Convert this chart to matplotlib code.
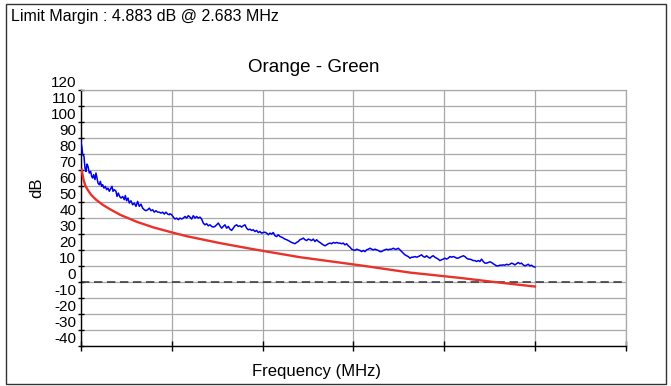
import matplotlib
matplotlib.use("Agg")
import matplotlib.pyplot as plt
from matplotlib.patches import Rectangle

plt.rcParams['font.family'] = ['Liberation Sans', 'DejaVu Sans']

# measured trace (blue)
blue_f = [0.00, 0.22, 0.37, 0.66, 0.88, 1.10, 1.32, 1.54, 1.83, 2.13, 2.35, 2.57, 2.79, 3.08, 3.30,
          3.52, 3.74, 4.04, 4.26, 4.55, 4.77, 5.06, 5.36, 5.65, 5.94, 6.24, 6.53, 6.83, 7.05, 7.34,
          7.71, 7.93, 8.22, 8.51, 8.81, 9.17, 9.54, 9.76, 10.05, 10.35, 10.64, 11.00, 11.38, 11.74,
          12.11, 12.47, 12.84, 13.21, 13.58, 13.94, 14.31, 14.68, 15.04, 15.41, 15.78, 16.14, 16.51,
          16.88, 17.24, 17.61, 17.98, 18.34, 18.71, 19.08, 19.44,
          19.59, 19.96, 20.33, 20.70, 21.06, 21.43, 21.80, 22.16, 22.53, 22.90, 23.26, 23.63, 24.00,
          24.36, 24.73, 25.10, 25.46, 25.83, 26.20, 26.56, 26.93, 27.30, 27.66, 28.03, 28.40, 28.77,
          29.13, 29.50, 29.87, 30.23, 30.60, 30.97, 31.33, 31.70, 32.07, 32.43, 32.80, 33.17, 33.53,
          33.90, 34.27, 34.63, 35.00, 35.37, 35.73, 36.10, 36.47, 36.83, 37.20, 37.57, 37.94, 38.30,
          38.67, 39.04, 39.40, 39.77, 40.14,
          40.51, 40.88, 41.24, 41.61, 41.98, 42.34, 42.71, 43.08, 43.44, 43.81, 44.18, 44.54, 44.91,
          45.28, 45.64, 46.01, 46.38, 46.74, 47.11, 47.48, 47.84, 48.21, 48.58, 48.95, 49.32, 49.68,
          50.05, 50.42, 50.78, 51.15, 51.52, 51.88, 52.25, 52.62, 52.98, 53.35, 53.72, 54.08, 54.45,
          54.82, 55.18, 55.55, 55.92, 56.28, 56.65, 57.02, 57.38, 57.75, 58.12, 58.49, 58.85, 59.22,
          59.59, 59.95, 60.32, 60.69, 61.05,
          61.43, 61.80, 62.16, 62.53, 62.90, 63.26, 63.63, 64.00, 64.36, 64.73, 65.10, 65.46, 65.83,
          66.20, 66.56, 66.93, 67.30, 67.66, 68.03, 68.40, 68.76, 69.13, 69.50, 69.86, 70.23, 70.60,
          70.96, 71.33, 71.70, 72.06, 72.43, 72.80, 73.16, 73.53, 73.90, 74.26, 74.63, 75.00, 75.36,
          75.73, 76.10, 76.46, 76.83, 77.20, 77.56, 77.93, 78.30, 78.66, 79.03, 79.40, 79.76, 80.13,
          80.50, 80.86,
          81.24, 81.60, 81.97, 82.34, 82.70, 83.07, 83.44, 83.80, 84.17, 84.54, 84.90, 85.27, 85.64,
          86.00, 86.37, 86.74, 87.10, 87.47, 87.84, 88.20, 88.57, 88.94, 89.30, 89.67, 90.04, 90.40,
          90.77, 91.14, 91.50, 91.87, 92.24, 92.60, 92.97, 93.34, 93.70, 94.07, 94.44, 94.80, 95.17,
          95.54, 95.90, 96.27, 96.64, 97.00, 97.37, 97.74, 98.10, 98.47, 98.84, 99.20, 99.57, 99.96]
blue_db = [87.3, 83.5, 79.4, 78.3, 71.0, 68.9, 73.5, 72.1, 67.9, 68.9, 65.8, 64.8, 66.9, 63.8, 67.9,
           64.8, 61.7, 60.6, 62.7, 59.6, 60.6, 58.5, 59.6, 57.5, 58.5, 56.5, 58.1, 59.6, 56.5, 57.5,
           56.5, 53.3, 55.4, 53.3, 52.3, 53.3, 51.3, 53.9, 50.6, 52.3, 49.2, 50.6, 48.1, 49.2,
           47.1, 50.2, 47.1, 48.5, 46.0, 45.0, 44.4, 45.0, 46.0, 44.4, 45.0, 43.5, 44.4,
           43.5, 43.5, 42.9, 43.5, 42.3, 43.5, 42.3, 41.9,
           42.5, 41.9, 40.4, 39.2, 39.8, 38.8, 39.8, 39.2, 39.8, 40.8, 39.8, 41.3, 40.4,
           39.2, 41.3, 39.8, 40.8, 39.8, 40.4, 39.2, 36.7, 35.6, 36.3, 35.0, 35.6, 34.6,
           34.2, 34.6, 35.6, 36.7, 35.0, 33.5, 34.6, 35.6, 33.5, 34.6, 32.9, 32.1, 33.5,
           35.0, 35.6, 34.6, 35.0, 34.2, 35.0, 35.6, 33.5, 32.5, 32.9, 32.1, 32.5, 31.4,
           32.1, 30.8, 31.4, 30.4, 30.8,
           31.0, 30.4, 29.4, 30.4, 29.8, 30.8, 28.8, 28.3, 29.4, 28.3, 27.9, 27.3, 26.7,
           26.3, 25.8, 25.2, 24.6, 24.2, 23.8, 24.6, 25.2, 26.3, 26.7, 27.3, 26.3, 25.8,
           26.7, 26.3, 25.8, 26.7, 25.2, 26.3, 25.2, 24.6, 23.8, 23.1, 22.5, 23.1, 23.8,
           24.2, 23.8, 24.6, 24.2, 24.6, 24.2, 24.2, 23.8, 24.2, 23.1, 23.8, 22.5, 21.7,
           20.4, 20.0, 19.6, 20.4, 20.0,
           19.6, 18.9, 19.6, 18.9, 20.0, 20.4, 21.0, 20.4, 20.0, 20.4, 20.0, 19.6, 18.9,
           18.9, 19.6, 20.0, 20.4, 20.0, 20.4, 20.4, 21.0, 20.4, 20.4, 21.0, 20.0, 18.9,
           17.9, 16.9, 16.3, 15.8, 14.8, 15.4, 15.4, 15.8, 15.4, 15.8, 16.3, 16.9, 15.8,
           15.4, 16.3, 15.4, 14.8, 15.8, 16.3, 15.4, 14.8, 14.2, 13.3, 13.8, 14.2, 14.8,
           14.2, 14.8,
           15.8, 15.4, 15.8, 15.4, 14.8, 14.8, 15.4, 15.8, 16.3, 15.8, 14.8, 14.2, 14.2,
           13.8, 13.3, 13.3, 12.7, 13.3, 12.7, 14.2, 12.7, 11.7, 11.7, 12.1, 12.5, 12.1,
           11.3, 10.6, 10.0, 10.0, 10.4, 10.4, 10.6, 10.4, 11.0, 10.6, 11.0, 11.7, 11.3,
           10.6, 11.3, 12.1, 11.3, 11.7, 10.6, 10.0, 10.4, 11.0, 10.0, 10.4, 9.6, 9.2]

# limit line (red)
limit_f = [0.15, 0.51, 0.95, 1.47, 2.20, 3.30, 4.78, 6.23, 8.59, 12.26, 15.93, 19.96, 23.27,
           30.60, 37.90, 48.20, 61.80, 72.43, 83.44, 90.77, 99.96]
limit_db = [70.0, 64.3, 60.0, 57.5, 54.4, 51.3, 48.1, 45.6, 41.9, 37.5, 34.0, 30.9, 28.5,
            24.2, 20.4, 15.4, 10.2, 5.8, 2.5, 0.0, -2.9]

y_ticks = list(range(-40, 121, 10))
x_ticks = list(range(0, 121, 20))

fig = plt.figure(figsize=(6.71, 3.86), dpi=100)
ax = fig.add_axes([0.1207, 0.1036, 0.8122, 0.6645])

# outer frame
fig.patches.append(Rectangle((0.009, 0.005), 0.9835, 0.9846, transform=fig.transFigure,
                             fill=False, edgecolor='#333333', linewidth=1.0))

ax.plot(blue_f, blue_db, color='#0000ee', linewidth=1.1, zorder=3)
ax.plot(limit_f, limit_db, color='#e8322b', linewidth=1.7, zorder=3)
ax.axhline(0, color='#333333', linewidth=1.1, linestyle=(0, (5.5, 3.0)), zorder=2)

ax.set_xlim(0, 120)
ax.set_ylim(-40, 120)
ax.set_xticks(x_ticks)
ax.set_xticklabels([])
ax.set_yticks(y_ticks)
ax.set_yticklabels([str(v) for v in y_ticks], fontsize=11)
for lab in ax.get_yticklabels():
    lab.set_verticalalignment('bottom')

ax.grid(True, color='#a8a8a8', linewidth=0.9)
ax.set_axisbelow(True)
ax.tick_params(axis='y', direction='inout', length=4, width=1, pad=1.5, colors='black')
ax.tick_params(axis='x', direction='inout', length=7, width=1, colors='black')
for side in ['top', 'right']:
    ax.spines[side].set_color('#a8a8a8')
    ax.spines[side].set_linewidth(0.9)
for side in ['left', 'bottom']:
    ax.spines[side].set_color('black')
    ax.spines[side].set_linewidth(1.0)

fig.text(0.0164, 0.956, 'Limit Margin : 4.883 dB @ 2.683 MHz', fontsize=11.5, va='center', ha='left')
fig.text(0.468, 0.824, 'Orange - Green', fontsize=13.5, ha='center', va='center')
fig.text(0.472, 0.037, 'Frequency (MHz)', fontsize=12, ha='center', va='center')
fig.text(0.0551, 0.513, 'dB', fontsize=12, rotation=90, ha='center', va='center')

fig.savefig('out.png', dpi=100)
